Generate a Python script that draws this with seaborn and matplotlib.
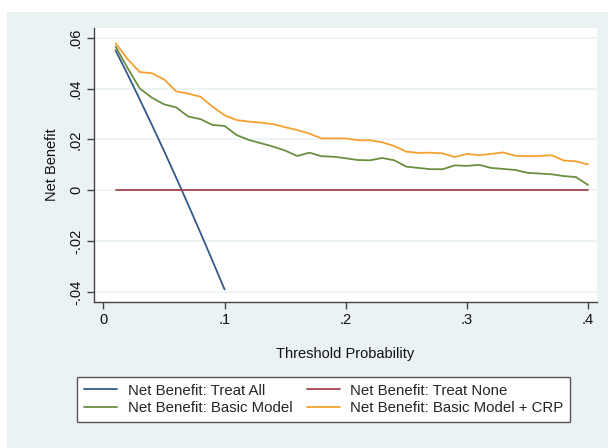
import numpy as np
import pandas as pd
import matplotlib
matplotlib.use("Agg")
import matplotlib.pyplot as plt
import seaborn as sns
from matplotlib.patches import Rectangle

# ---- data ----
thresholds = [round(0.01 * i, 2) for i in range(1, 41)]

treat_all_x = [0.01, 0.02, 0.03, 0.04, 0.05, 0.06, 0.07, 0.08, 0.09, 0.10]
treat_all = [0.055, 0.0455, 0.0357, 0.0257, 0.0155, 0.0050, -0.0057, -0.0166, -0.0277, -0.0390]

treat_none = [0.0] * 40

basic_model = [0.0565, 0.0480, 0.0400, 0.0364, 0.0338, 0.0326, 0.0290, 0.0280, 0.0257, 0.0253,
               0.0217, 0.0198, 0.0185, 0.0172, 0.0156, 0.0135, 0.0148, 0.0134, 0.0132, 0.0126,
               0.0119, 0.0118, 0.0127, 0.0118, 0.0093, 0.0088, 0.0083, 0.0083, 0.0098, 0.0096,
               0.0100, 0.0088, 0.0084, 0.0080, 0.0069, 0.0066, 0.0063, 0.0056, 0.0052, 0.0021]

basic_crp = [0.0578, 0.0515, 0.0465, 0.0460, 0.0436, 0.0389, 0.0380, 0.0368, 0.0329, 0.0295,
             0.0276, 0.0270, 0.0266, 0.0260, 0.0248, 0.0237, 0.0223, 0.0204, 0.0204, 0.0204,
             0.0197, 0.0197, 0.0189, 0.0174, 0.0152, 0.0147, 0.0148, 0.0145, 0.0131, 0.0143,
             0.0138, 0.0143, 0.0149, 0.0136, 0.0134, 0.0135, 0.0138, 0.0117, 0.0114, 0.0102]

labels = ["Net Benefit: Treat All", "Net Benefit: Treat None",
          "Net Benefit: Basic Model", "Net Benefit: Basic Model + CRP"]
colors = ["#34598a", "#a8434f", "#6a8f40", "#f5a030"]

xticks = [0, 0.1, 0.2, 0.3, 0.4]
xticklabels = ["0", ".1", ".2", ".3", ".4"]
yticks = [-0.04, -0.02, 0, 0.02, 0.04, 0.06]
yticklabels = ["-.04", "-.02", "0", ".02", ".04", ".06"]

# ---- plot ----
sns.set_theme(style="white")
plt.rcParams["font.family"] = ["Liberation Sans", "DejaVu Sans"]

W, H = 608, 448
fig = plt.figure(figsize=(W / 100, H / 100), dpi=100, facecolor="white")
bg = Rectangle((7 / W, 0), 1 - 7 / W, (H - 12) / H,
               transform=fig.transFigure, facecolor="#eaf2f3",
               edgecolor="none", zorder=-10)
fig.patches.append(bg)

ax = fig.add_axes([94 / W, 1 - 302 / H, (597 - 94) / W, (302 - 28) / H])
ax.set_zorder(1)
ax.set_facecolor("white")

series = [
    (treat_all_x, treat_all, labels[0], colors[0]),
    (thresholds, treat_none, labels[1], colors[1]),
    (thresholds, basic_model, labels[2], colors[2]),
    (thresholds, basic_crp, labels[3], colors[3]),
]
handles = {}
for xs, ys, lab, col in series:
    df = pd.DataFrame({"x": xs, "y": ys})
    sns.lineplot(data=df, x="x", y="y", ax=ax, color=col, linewidth=1.3, label=lab, legend=False)
    handles[lab] = ax.get_lines()[-1]

ax.set_xlim(-0.0078, 0.4074)
ax.set_ylim(-0.0439, 0.0638)
ax.set_xticks(xticks)
ax.set_xticklabels(xticklabels)
ax.set_yticks(yticks)
ax.set_yticklabels(yticklabels, rotation=90, va="center")
ax.yaxis.grid(True, color="#eaf2f3", linewidth=1.2)
ax.xaxis.grid(False)
ax.set_axisbelow(True)

for s in ["top", "right"]:
    ax.spines[s].set_visible(False)
for s in ["left", "bottom"]:
    ax.spines[s].set_color("#444444")
    ax.spines[s].set_linewidth(1.0)

ax.tick_params(axis="both", which="major", direction="out", length=5, width=1,
               color="#444444", labelsize=10.5, labelcolor="#111111", pad=3,
               bottom=True, left=True)

ax.set_xlabel("Threshold Probability", fontsize=10.5, color="#111111", labelpad=14)
ax.set_ylabel("Net Benefit", fontsize=10.5, color="#111111", labelpad=7)

order = [labels[0], labels[2], labels[1], labels[3]]
leg = fig.legend([handles[l] for l in order], order, ncol=2,
                 loc="lower left",
                 bbox_to_anchor=(77.5 / W, 1 - 422 / H, (570 - 77.5) / W, 50 / H),
                 mode="expand", frameon=True, fancybox=False, fontsize=10.8,
                 framealpha=1.0,
                 handlelength=2.2, handletextpad=0.7, columnspacing=1.2,
                 borderpad=0.45, labelspacing=0.25, borderaxespad=0)
leg.get_frame().set_edgecolor("#555555")
leg.get_frame().set_linewidth(1.0)
leg.get_frame().set_facecolor("white")

fig.savefig("out.png", dpi=100, facecolor="white")
